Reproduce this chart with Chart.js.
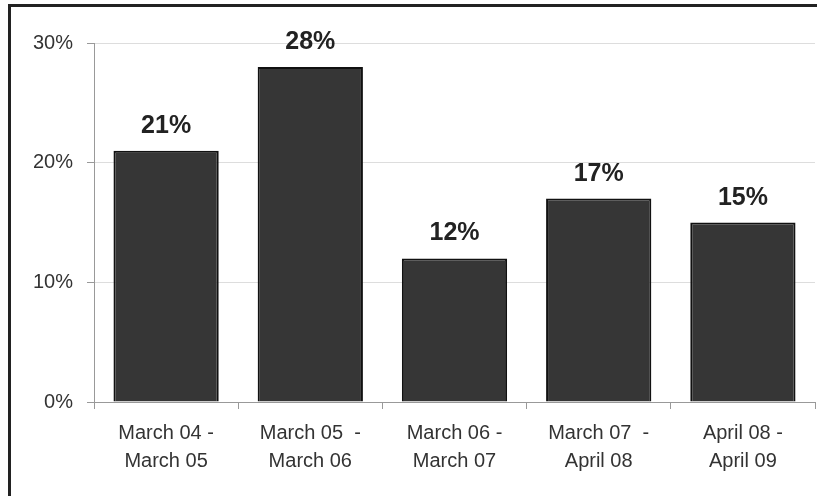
<!DOCTYPE html>
<html>
<head>
<meta charset="utf-8">
<script src="https://cdn.jsdelivr.net/npm/chart.js@4"></script>
<style>
    html, body { margin:0; padding:0; background:#fff; }
    .wrap { position:relative; width:817px; height:496px; overflow:hidden; }
    .frame { position:absolute; left:8px; top:4px; width:830px; height:520px; border:3px solid #222; box-sizing:border-box; pointer-events:none; }
    canvas { position:absolute; left:0; top:0; }
</style>
</head>
<body>
<div class="wrap">
    <canvas id="chart" width="817" height="496"></canvas>
    <div class="frame"></div>
</div>
<script>
// Data
const periods = [['March 04 -','March 05'],['March 05  -','March 06'],['March 06 -','March 07'],['March 07  -','April 08'],['April 08 -','April 09']];
const values = [21, 28, 12, 17, 15];
const yTicks = [0, 10, 20, 30];

// value labels above each bar
const barLabels = {
    id:'barLabels',
    afterDatasetsDraw(chart) {
        const ctx = chart.ctx;
        const meta = chart.getDatasetMeta(0);
        ctx.save();
        ctx.font = 'bold 25px Arial, "Liberation Sans", sans-serif';
        ctx.fillStyle = '#222';
        ctx.textAlign = 'center';
        ctx.textBaseline = 'alphabetic';
        meta.data.forEach((bar,i)=>{
            ctx.fillText(values[i]+'%', bar.x, bar.y-18);
        });
        ctx.restore();
    }
};

new Chart(document.getElementById('chart'),{
    type:'bar',
    data:{
        labels:periods,
        datasets:[{data:values,backgroundColor:'#363636',borderColor:'#111',borderWidth:2,barPercentage:0.73,categoryPercentage:1}]
    },
    options:{
        responsive:false,
        animation:false,
        layout:{padding:{top:43,right:2,left:0,bottom:0}},
        plugins:{legend:{display:false},tooltip:{enabled:false}},
        scales:{
            x:{
                offset:true,
                grid:{offset:true,drawOnChartArea:false,tickLength:7,color:'#999',tickColor:'#999'},
                border:{color:'#999'},
                ticks:{color:'#333',padding:10,font:{family:'Arial, "Liberation Sans", sans-serif',size:20,lineHeight:1.4},maxRotation:0},
                afterFit(scale){ scale.height = 94; }
            },
            y:{
                min:0,max:30,
                afterBuildTicks(scale){ scale.ticks = yTicks.map(v=>({value:v})); },
                grid:{color:'#ddd',tickLength:7,tickColor:'#999'},
                border:{color:'#999'},
                ticks:{color:'#333',padding:14,font:{family:'Arial, "Liberation Sans", sans-serif',size:20},callback:v=>v+'%'},
                afterFit(scale){ scale.width = 94; }
            }
        }
    },
    plugins:[barLabels]
});
</script>
</body>
</html>
